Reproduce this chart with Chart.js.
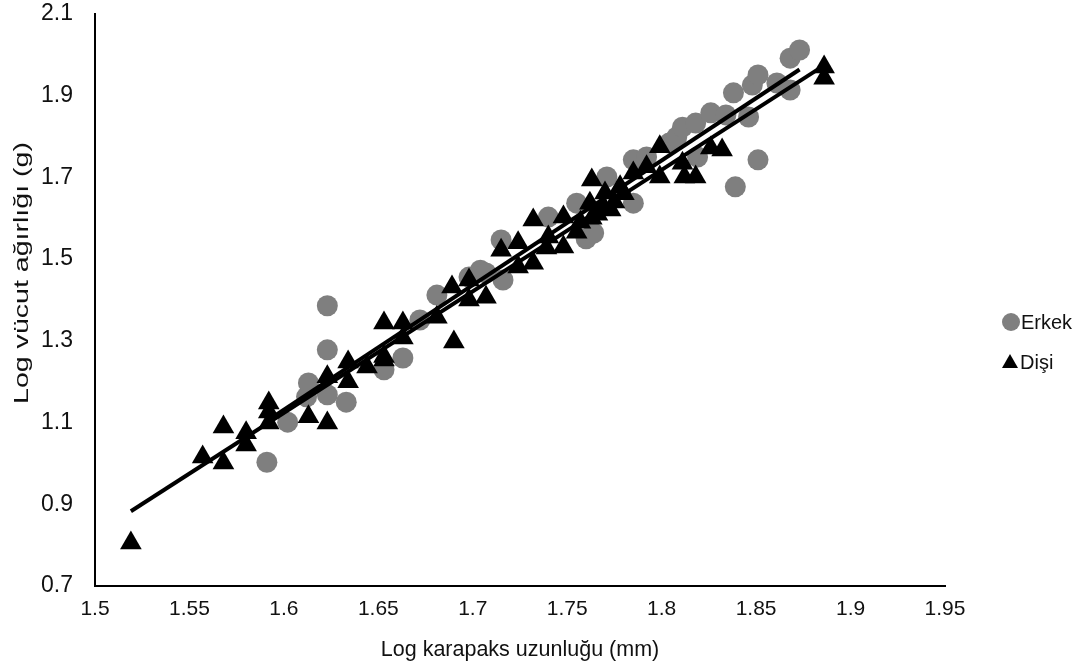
<!DOCTYPE html>
<html>
<head>
<meta charset="utf-8">
<script src="https://cdn.jsdelivr.net/npm/chart.js@4.4.1/dist/chart.umd.min.js"></script>
<style>
  html, body { margin: 0; padding: 0; background: #ffffff; }
  #wrap { width: 1089px; height: 671px; position: relative; }
</style>
</head>
<body>
<div id="wrap"><canvas id="c" width="1089" height="671"></canvas></div>
<script>
// ---- Data ----
const seriesLabels = ['Erkek', 'Dişi'];

const erkekX = [1.591, 1.602, 1.612, 1.613, 1.623, 1.623, 1.623, 1.633, 1.653, 1.663,
                1.672, 1.681, 1.698, 1.704, 1.707, 1.716, 1.715, 1.740, 1.755, 1.760,
                1.764, 1.771, 1.785, 1.785, 1.792, 1.804, 1.808, 1.811, 1.818, 1.819,
                1.826, 1.834, 1.839, 1.838, 1.846, 1.848, 1.851, 1.851, 1.861, 1.868,
                1.868, 1.873];
const erkekY = [1.003, 1.101, 1.163, 1.197, 1.386, 1.278, 1.168, 1.150, 1.229, 1.258,
                1.351, 1.412, 1.456, 1.473, 1.466, 1.449, 1.547, 1.603, 1.637, 1.550,
                1.564, 1.701, 1.743, 1.637, 1.750, 1.784, 1.799, 1.823, 1.833, 1.750,
                1.858, 1.853, 1.677, 1.907, 1.848, 1.926, 1.743, 1.951, 1.931, 1.914,
                1.992, 2.012];

const disiX = [1.519, 1.557, 1.568, 1.568, 1.580, 1.580, 1.592, 1.592, 1.592, 1.613,
               1.623, 1.623, 1.634, 1.634, 1.644, 1.653, 1.653, 1.653, 1.663, 1.663,
               1.681, 1.689, 1.690, 1.698, 1.698, 1.707, 1.715, 1.724, 1.724, 1.732,
               1.732, 1.740, 1.739, 1.748, 1.748, 1.755, 1.757, 1.762, 1.763, 1.763,
               1.766, 1.769, 1.770, 1.773, 1.775, 1.778, 1.780, 1.785, 1.792, 1.799,
               1.799, 1.811, 1.812, 1.818, 1.826, 1.832, 1.886, 1.886];
const disiY = [0.805, 1.016, 1.001, 1.089, 1.075, 1.045, 1.148, 1.126, 1.099, 1.114,
               1.099, 1.212, 1.248, 1.200, 1.236, 1.344, 1.253, 1.262, 1.344, 1.307,
               1.358, 1.432, 1.297, 1.449, 1.400, 1.407, 1.522, 1.540, 1.481, 1.596,
               1.490, 1.554, 1.527, 1.603, 1.530, 1.566, 1.590, 1.637, 1.694, 1.600,
               1.610, 1.630, 1.662, 1.620, 1.640, 1.677, 1.660, 1.711, 1.726, 1.775,
               1.701, 1.735, 1.701, 1.701, 1.772, 1.767, 1.970, 1.943];

const xTickValues = [1.5, 1.55, 1.6, 1.65, 1.7, 1.75, 1.8, 1.85, 1.9, 1.95];
const xTickLabels = ['1.5', '1.55', '1.6', '1.65', '1.7', '1.75', '1.8', '1.85', '1.9', '1.95'];
const yTickValues = [0.7, 0.9, 1.1, 1.3, 1.5, 1.7, 1.9, 2.1];
const yTickLabels = ['0.7', '0.9', '1.1', '1.3', '1.5', '1.7', '1.9', '2.1'];

const xTitle = 'Log karapaks uzunluğu (mm)';
const yTitle = 'Log vücut ağırlığı (g)';

// ---- helpers ----
function toPoints(xs, ys) { return xs.map((x, i) => ({ x: x, y: ys[i] })); }
function trend(xs, ys) {
  const n = xs.length;
  let sx = 0, sy = 0, sxx = 0, sxy = 0;
  for (let i = 0; i < n; i++) { sx += xs[i]; sy += ys[i]; sxx += xs[i] * xs[i]; sxy += xs[i] * ys[i]; }
  const b = (n * sxy - sx * sy) / (n * sxx - sx * sx);
  const a = (sy - b * sx) / n;
  const x0 = Math.min.apply(null, xs), x1 = Math.max.apply(null, xs);
  return [{ x: x0, y: a + b * x0 }, { x: x1, y: a + b * x1 }];
}

const GREY = '#7f7f7f';
const BLACK = '#000000';
const TEXT = '#111111';
const FONT = "'Liberation Sans', Arial, sans-serif";

// Side legend + vertically stretched y-axis title (as in the reference picture)
const sidePlugin = {
  id: 'sideLegend',
  afterDraw(chart) {
    const ctx = chart.ctx;
    ctx.save();
    ctx.font = '20px ' + FONT;
    ctx.textBaseline = 'middle';
    ctx.textAlign = 'left';
    ctx.fillStyle = GREY;
    ctx.beginPath(); ctx.arc(1011, 322, 9, 0, Math.PI * 2); ctx.fill();
    ctx.fillStyle = TEXT;
    ctx.fillText(seriesLabels[0], 1021, 323);
    ctx.fillStyle = BLACK;
    ctx.beginPath();
    ctx.moveTo(1010, 354); ctx.lineTo(1018, 368); ctx.lineTo(1002, 368); ctx.closePath(); ctx.fill();
    ctx.fillStyle = TEXT;
    ctx.fillText(seriesLabels[1], 1020, 363);
    ctx.restore();

    ctx.save();
    ctx.translate(22, 273);
    ctx.rotate(-Math.PI / 2);
    ctx.scale(1.36, 1);
    ctx.font = '21px ' + FONT;
    ctx.textAlign = 'center';
    ctx.textBaseline = 'middle';
    ctx.fillStyle = TEXT;
    ctx.fillText(yTitle, 0, 0);
    ctx.restore();
  }
};

new Chart(document.getElementById('c'), {
  type: 'scatter',
  data: {
    datasets: [
      { type: 'line', label: 'trend ' + seriesLabels[0], data: trend(erkekX, erkekY),
        borderColor: BLACK, borderWidth: 4, pointRadius: 0, fill: false, order: 0 },
      { type: 'line', label: 'trend ' + seriesLabels[1], data: trend(disiX, disiY),
        borderColor: BLACK, borderWidth: 4, pointRadius: 0, fill: false, order: 0 },
      { label: seriesLabels[1], data: toPoints(disiX, disiY), pointStyle: 'triangle',
        pointRadius: 12.5, backgroundColor: BLACK, borderColor: BLACK, borderWidth: 0, order: 1 },
      { label: seriesLabels[0], data: toPoints(erkekX, erkekY), pointStyle: 'circle',
        pointRadius: 10.5, backgroundColor: GREY, borderColor: GREY, borderWidth: 0, order: 2 }
    ]
  },
  options: {
    responsive: false,
    devicePixelRatio: 1,
    animation: false,
    layout: { autoPadding: false, padding: { left: 0, right: 144, top: 14, bottom: 0 } },
    plugins: { legend: { display: false }, tooltip: { enabled: false } },
    scales: {
      x: {
        type: 'linear', min: 1.5, max: 1.95,
        afterBuildTicks(s) { s.ticks = xTickValues.map(v => ({ value: v })); },
        afterFit(s) { s.height = 85; },
        grid: { display: false, drawTicks: false },
        border: { display: true, color: BLACK, width: 2 },
        ticks: {
          padding: 11, color: TEXT, font: { family: FONT, size: 21 },
          maxRotation: 0, autoSkip: false,
          callback(v) { const i = xTickValues.findIndex(t => Math.abs(t - v) < 1e-9); return i >= 0 ? xTickLabels[i] : ''; }
        },
        title: { display: true, text: xTitle, color: TEXT, font: { family: FONT, size: 21.5 },
                 padding: { top: 0, bottom: 8 } }
      },
      y: {
        type: 'linear', min: 0.7, max: 2.1,
        afterBuildTicks(s) { s.ticks = yTickValues.map(v => ({ value: v })); },
        afterFit(s) { s.width = 95; s.paddingTop = 0; s.paddingBottom = 0; },
        grid: { display: false, drawTicks: false },
        border: { display: true, color: BLACK, width: 2 },
        ticks: {
          padding: 22, color: TEXT, font: { family: FONT, size: 23 },
          autoSkip: false,
          callback(v) { const i = yTickValues.findIndex(t => Math.abs(t - v) < 1e-9); return i >= 0 ? yTickLabels[i] : ''; }
        },
        title: { display: false, text: yTitle }
      }
    }
  },
  plugins: [sidePlugin]
});
</script>
</body>
</html>
